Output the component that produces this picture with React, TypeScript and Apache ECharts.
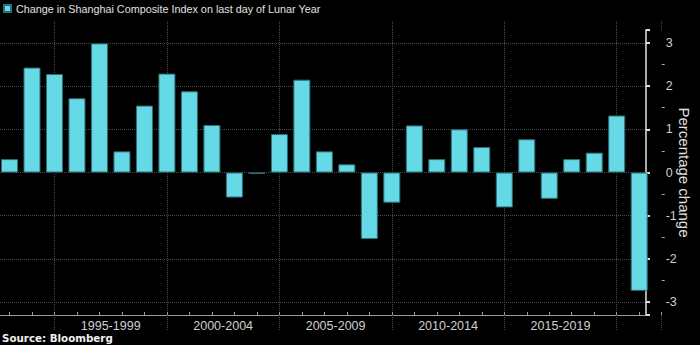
import { useEffect, useRef } from "react";
import * as echarts from "echarts";

const years = [1992, 1993, 1994, 1995, 1996, 1997, 1998, 1999, 2000, 2001, 2002, 2003, 2004, 2005, 2006, 2007, 2008, 2009, 2010, 2011, 2012, 2013, 2014, 2015, 2016, 2017, 2018, 2019, 2020];
const changes = [0.31, 2.43, 2.28, 1.72, 2.99, 0.49, 1.55, 2.29, 1.88, 1.1, -0.58, -0.03, 0.89, 2.15, 0.49, 0.19, -1.54, -0.7, 1.09, 0.31, 1.0, 0.59, -0.81, 0.77, -0.61, 0.31, 0.46, 1.32, -2.74];
const periodLabels = ["1995-1999", "2000-2004", "2005-2009", "2010-2014", "2015-2019"];
const seriesName = "Change in Shanghai Composite Index on last day of Lunar Year";
const yAxisName = "Percentage change";
const sourceText = "Source: Bloomberg";

const FONT = "Liberation Sans";
const BAR = "#66d9e6";
const GRIDC = "#4a4a4a";

export default function App() {
  const ref = useRef<HTMLDivElement>(null);
  useEffect(() => {
    document.body.style.margin = "0";
    document.body.style.background = "#000";
    const chart = echarts.init(ref.current!, null, { renderer: "svg" });
    const R = 38.3; // right margin of plot
    const AXIS_X = 700 - R; // pixel of year 2021
    const X0 = 9.5; // pixel of first year
    const PX = (AXIS_X - X0) / 29; // px per year
    const top = 30;
    const bottom = 30;
    const yMax = 3.3;
    const pxPerUnit = (345 - top - bottom) / (2 * yMax);
    const tickGridInset = top + (yMax - 3) * pxPerUnit;
    const hiddenY = (gridIndex: number) => ({ gridIndex, type: "value", min: -yMax, max: yMax, show: false });
    const option: any = {
      animation: false,
      backgroundColor: "#000",
      textStyle: { fontFamily: FONT },
      legend: {
        left: 3,
        top: 3,
        padding: 0,
        itemWidth: 7,
        itemHeight: 7,
        icon: "rect",
        textStyle: { color: "#e0e0e0", fontSize: 10.8, fontFamily: FONT },
        data: [seriesName],
      },
      graphic: [
        {
          type: "text",
          left: 2,
          top: 333,
          style: { text: sourceText, fill: "#f0f0f0", font: `bold 10.3px "DejaVu Sans"` },
        },
      ],
      grid: [
        { left: 0, right: R, top, bottom },
        { left: X0, right: R, top, bottom },
        { left: X0 + 2 * PX, right: R, top, bottom },
        { left: X0 + 4.5 * PX, right: R, top, bottom },
        { left: 0, right: R, top: tickGridInset, bottom: tickGridInset },
      ],
      xAxis: [
        {
          gridIndex: 0,
          type: "value",
          position: "bottom",
          min: 0,
          max: 1,
          axisLine: { show: true, onZero: false, lineStyle: { color: "#9a9a9a", width: 1 } },
          axisTick: { show: false },
          axisLabel: { show: false },
          splitLine: { show: false },
        },
        {
          gridIndex: 1,
          type: "value",
          position: "bottom",
          min: 1992,
          max: 2021,
          interval: 1,
          axisLine: { show: false, onZero: false },
          axisTick: { show: true, inside: true, length: 3, lineStyle: { color: "#9a9a9a" } },
          axisLabel: { show: false },
          splitLine: { show: false },
        },
        {
          gridIndex: 2,
          type: "value",
          position: "bottom",
          min: 1994,
          max: 2021,
          interval: 5,
          axisLine: { show: false, onZero: false },
          axisTick: { show: true, length: 16, lineStyle: { color: GRIDC, type: "dotted" } },
          axisLabel: { show: false },
          splitLine: { show: true, showMinLine: true, showMaxLine: false, lineStyle: { color: GRIDC, type: "dotted" } },
        },
        {
          gridIndex: 2,
          type: "value",
          position: "top",
          min: 1994,
          max: 2021,
          interval: 5,
          axisLine: { show: false, onZero: false },
          axisTick: { show: true, length: 10, lineStyle: { color: GRIDC, type: "dotted" } },
          axisLabel: { show: false },
          splitLine: { show: false },
        },
        {
          gridIndex: 3,
          type: "value",
          position: "bottom",
          min: 1996.5,
          max: 2021,
          interval: 5,
          axisLine: { show: false, onZero: false },
          axisTick: { show: false },
          splitLine: { show: false },
          axisLabel: {
            show: true,
            margin: 4,
            color: "#cfcfcf",
            fontSize: 12.5,
            fontFamily: FONT,
            formatter: (v: number) => {
              const i = Math.round((v - 1996.5) / 5);
              return Math.abs(v - (1996.5 + i * 5)) < 0.01 && i >= 0 && i < periodLabels.length ? periodLabels[i] : "";
            },
          },
        },
        { gridIndex: 4, type: "value", min: 0, max: 1, show: false },
      ],
      yAxis: [
        {
          gridIndex: 0,
          type: "value",
          position: "right",
          min: -yMax,
          max: yMax,
          splitNumber: 6,
          axisLine: { show: true, onZero: false, lineStyle: { color: "#aaaaaa", width: 2 } },
          axisTick: { show: true, length: 4, lineStyle: { color: "#dddddd", width: 2 } },
          axisLabel: { show: false },
          splitLine: { show: true, showMinLine: false, showMaxLine: false, lineStyle: { color: GRIDC, type: "dotted" } },
          name: yAxisName,
          nameLocation: "middle",
          nameRotate: -90,
          nameGap: 31,
          nameTextStyle: { color: "#e0e0e0", fontSize: 15, fontFamily: FONT },
        },
        hiddenY(1),
        hiddenY(2),
        hiddenY(3),
        {
          gridIndex: 4,
          type: "value",
          position: "right",
          min: -3,
          max: 3,
          interval: 1,
          axisLine: { show: false, onZero: false },
          axisTick: { show: false },
          minorTick: { show: true, splitNumber: 2, length: 3, lineStyle: { color: "#aaaaaa" } },
          splitLine: { show: false },
          axisLabel: { show: true, margin: 4, color: "#cfcfcf", fontSize: 12.5, fontFamily: FONT },
        },
      ],
      series: [
        {
          name: seriesName,
          type: "bar",
          xAxisIndex: 1,
          yAxisIndex: 1,
          barWidth: 17,
          clip: false,
          itemStyle: { color: BAR, borderColor: "#2d6f77", borderWidth: 1 },
          data: years.map((y, i) => [y, changes[i]]),
        },
      ],
    };
    chart.setOption(option);
    return () => chart.dispose();
  }, []);
  return <div ref={ref} style={{ width: 700, height: 345, background: "#000" }} />;
}
